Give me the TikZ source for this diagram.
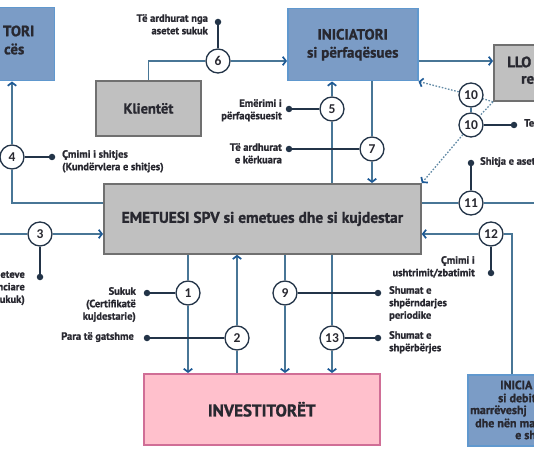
\documentclass[tikz,border=0pt]{standalone}
\usepackage{fontspec}
\setmainfont{PT Sans}[BoldFeatures={FakeBold=1.2}]
\newfontfamily\numfont{Carlito}
\usetikzlibrary{arrows.meta}
\definecolor{boxblue}{RGB}{123,156,198}
\definecolor{edgeblue}{RGB}{96,152,206}
\definecolor{boxgray}{RGB}{192,192,192}
\definecolor{edgegray}{RGB}{112,112,112}
\definecolor{boxpink}{RGB}{255,192,204}
\definecolor{edgepink}{RGB}{208,110,150}
\definecolor{linkblue}{RGB}{72,118,150}
\definecolor{tipblue}{RGB}{30,90,150}
\definecolor{navy}{RGB}{35,52,72}
\definecolor{ink}{RGB}{40,40,48}

\begin{document}
\begin{tikzpicture}[x=1pt,y=-1pt,
  bluebox/.style={draw=edgeblue,fill=boxblue,line width=1.5pt,text=ink,align=center,font=\bfseries\fontsize{15}{18}\selectfont},
  graybox/.style={draw=edgegray,fill=boxgray,line width=1.8pt,text=ink,align=center,font=\bfseries\fontsize{15.5}{16}\selectfont},
  pinkbox/.style={draw=edgepink,fill=boxpink,line width=1.5pt,text=ink,align=center,font=\bfseries\fontsize{17}{16}\selectfont},
  boxtxt/.style={text=ink,inner sep=0pt,font=\bfseries\fontsize{15}{16}\selectfont},
  smalltxt/.style={text=ink,inner sep=0pt,font=\bfseries\fontsize{12}{12}\selectfont},
  lbl/.style={text=ink,inner sep=0pt,font=\bfseries\fontsize{10.5}{12.5}\selectfont},
  numc/.style={circle,draw=navy,fill=white,line width=1.3pt,minimum size=24pt,inner sep=0pt,text=ink,font=\numfont\bfseries\fontsize{13.5}{13}\selectfont},
  dotn/.style={circle,fill=navy,minimum size=6.5pt,inner sep=0pt},
  conn/.style={draw=linkblue,line width=1.3pt},
  lead/.style={draw=navy,line width=1.2pt},
  dotlink/.style={draw=linkblue!85,line width=1.3pt,dash pattern=on 1.6pt off 1.6pt},
  flow/.style={-{Straight Barb[length=3.2pt,width=8.5pt,line width=1.7pt,color=tipblue]}}]
\useasboundingbox (0,0) rectangle (534,462);
\clip (0,0) rectangle (534,462);
\node[bluebox,minimum width=120pt,minimum height=73pt,anchor=north east] (seller) at (55,7) {};
\node[boxtxt,anchor=east] (sellera) at (34.5,31) {TORI};
\node[boxtxt,anchor=east] (sellerb) at (24.5,49) {cës};
\node[graybox,minimum width=105pt,minimum height=55pt,anchor=north west,font=\bfseries\fontsize{14.5}{16}\selectfont] (client) at (95,80) {Klientët};
\node[bluebox,minimum width=130pt,minimum height=72pt,anchor=north west] (repr) at (287,8) {INICIATORI\\si përfaqësues};
\node[graybox,minimum width=100pt,minimum height=56pt,anchor=north west] (llo) at (493,44) {};
\node[boxtxt,anchor=west] (lloa) at (507,62) {LLO};
\node[boxtxt,anchor=west] (llob) at (521,80) {re};
\node[graybox,minimum width=317pt,minimum height=70pt,anchor=north west] (emet) at (103,183) {EMETUESI SPV si emetues dhe si kujdestar};
\node[pinkbox,minimum width=236pt,minimum height=71pt,anchor=north west] (inv) at (143,373) {INVESTITORËT};
\node[bluebox,minimum width=150pt,minimum height=71pt,anchor=north west] (debtor) at (467,374) {};
\node[smalltxt,anchor=west] (debtora) at (500,385) {INICIA};
\node[smalltxt,anchor=west] (debtorb) at (498,398) {si debit};
\node[smalltxt,anchor=west] (debtorc) at (470,411) {marrëveshj};
\node[smalltxt,anchor=west] (debtord) at (475,423) {dhe nën ma};
\node[smalltxt,anchor=west] (debtore) at (515,435) {e sh};

\node[numc] (c1) at (188,293) {1};
\node[numc] (c2) at (237,338) {2};
\node[numc] (c3) at (40,234) {3};
\node[numc] (c4) at (12,157) {4};
\node[numc] (c5) at (332,109) {5};
\node[numc] (c6) at (218,61) {6};
\node[numc] (c7) at (372,149) {7};
\node[numc] (c9) at (285,293) {9};
\node[numc] (c10a) at (471,95) {10};
\node[numc] (c10b) at (471,125) {10};
\node[numc] (c11) at (471,203) {11};
\node[numc] (c12) at (491,234) {12};
\node[numc] (c13) at (332,338) {13};

\draw[conn] (client.north) |- (c6.west);
\draw[conn,flow] (c6.east) -- (c6.east -| repr.west);
\draw[conn,flow] (c6 -| repr.east) -- (c6 -| llo.west);
\draw[conn,flow] (c5.north) -- (c5 |- repr.south);
\draw[conn] (c5 |- emet.north) -- (c5.south);
\draw[conn] (c7 |- repr.south) -- (c7.north);
\draw[conn,flow] (c7.south) -- (c7 |- emet.north);
\coordinate (k4) at (12,203);
\draw[conn] (k4 -| emet.west) -- (k4) -- (c4.south);
\draw[conn,flow] (c4.north) -- (c4 |- seller.south);
\coordinate (w3) at (0,234);
\draw[conn] (w3) -- (c3.west);
\draw[conn,flow] (c3.east) -- (c3 -| emet.west);
\draw[conn] (c1 |- emet.south) -- (c1.north);
\draw[conn,flow] (c1.south) -- (c1 |- inv.north);
\draw[conn] (c2 |- inv.north) -- (c2.south);
\draw[conn,flow] (c2.north) -- (c2 |- emet.south);
\draw[conn] (c9 |- emet.south) -- (c9.north);
\draw[conn,flow] (c9.south) -- (c9 |- inv.north);
\draw[conn] (c13 |- emet.south) -- (c13.north);
\draw[conn,flow] (c13.south) -- (c13 |- inv.north);
\coordinate (k12) at (512,234);
\draw[conn] (k12 |- debtor.north) -- (k12) -- (c12.east);
\draw[conn,flow] (c12.west) -- (c12 -| emet.east);
\coordinate (e11) at (534,203);
\draw[conn] (c11 -| emet.east) -- (c11.west);
\draw[conn] (c11.east) -- (e11);
\draw[conn] (c10a) -- (c10b);
\draw[dotlink] (llo.south west) -- (c10a);
\draw[dotlink,flow] (c10a) -- (repr.south east);
\draw[dotlink] (llo.south west) -- (c10b);
\draw[dotlink,flow] (c10b) -- (emet.north east);

\node[dotn] (d1) at (147,293) {};
\node[dotn] (d2) at (147,338) {};
\node[dotn] (d3) at (40,277) {};
\node[dotn] (d4) at (52,157) {};
\node[dotn] (d5) at (289,109) {};
\node[dotn] (d6) at (218,22) {};
\node[dotn] (d7) at (289,149) {};
\node[dotn] (d9) at (378,293) {};
\node[dotn] (d10) at (514,125) {};
\node[dotn] (d11) at (471,163) {};
\node[dotn] (d12) at (491,273) {};
\node[dotn] (d13) at (378,338) {};
\foreach \n in {1,2,3,4,5,6,7,9,11,12,13}
  \draw[lead] (d\n) -- (c\n);
\draw[lead] (d10) -- (c10b);

\node[lbl,align=right,anchor=north east] (t1) at (136,287) {Sukuk\\(Certifikatë\\kujdestarie)};
\node[lbl,align=right,anchor=north east] (t2) at (134,332) {Para të gatshme};
\node[lbl,align=right,anchor=north east] (t3) at (25,271) {eteve\\nciare\\ukuk)};
\node[lbl,align=left,anchor=north west] (t4) at (62,150) {Çmimi i shitjes\\(Kundërvlera e shitjes)};
\node[lbl,align=right,anchor=north east] (t5) at (282,99) {Emërimi i\\përfaqësuesit};
\node[lbl,align=right,anchor=north east] (t6) at (208,14) {Të ardhurat nga\\asetet sukuk};
\node[lbl,align=right,anchor=north east] (t7) at (282,143) {Të ardhurat\\e kërkuara};
\node[lbl,align=left,anchor=north west] (t9) at (389,286) {Shumat e\\shpërndarjes\\periodike};
\node[lbl,align=left,anchor=north west] (t10) at (524,119) {Te};
\node[lbl,align=left,anchor=north west] (t11) at (480,157) {Shitja e aset};
\node[lbl,align=right,anchor=north east] (t12) at (475,256) {Çmimi i\\ushtrimit/zbatimit};
\node[lbl,align=left,anchor=north west] (t13) at (389,331) {Shumat e\\shpërbërjes};
\end{tikzpicture}
\end{document}
